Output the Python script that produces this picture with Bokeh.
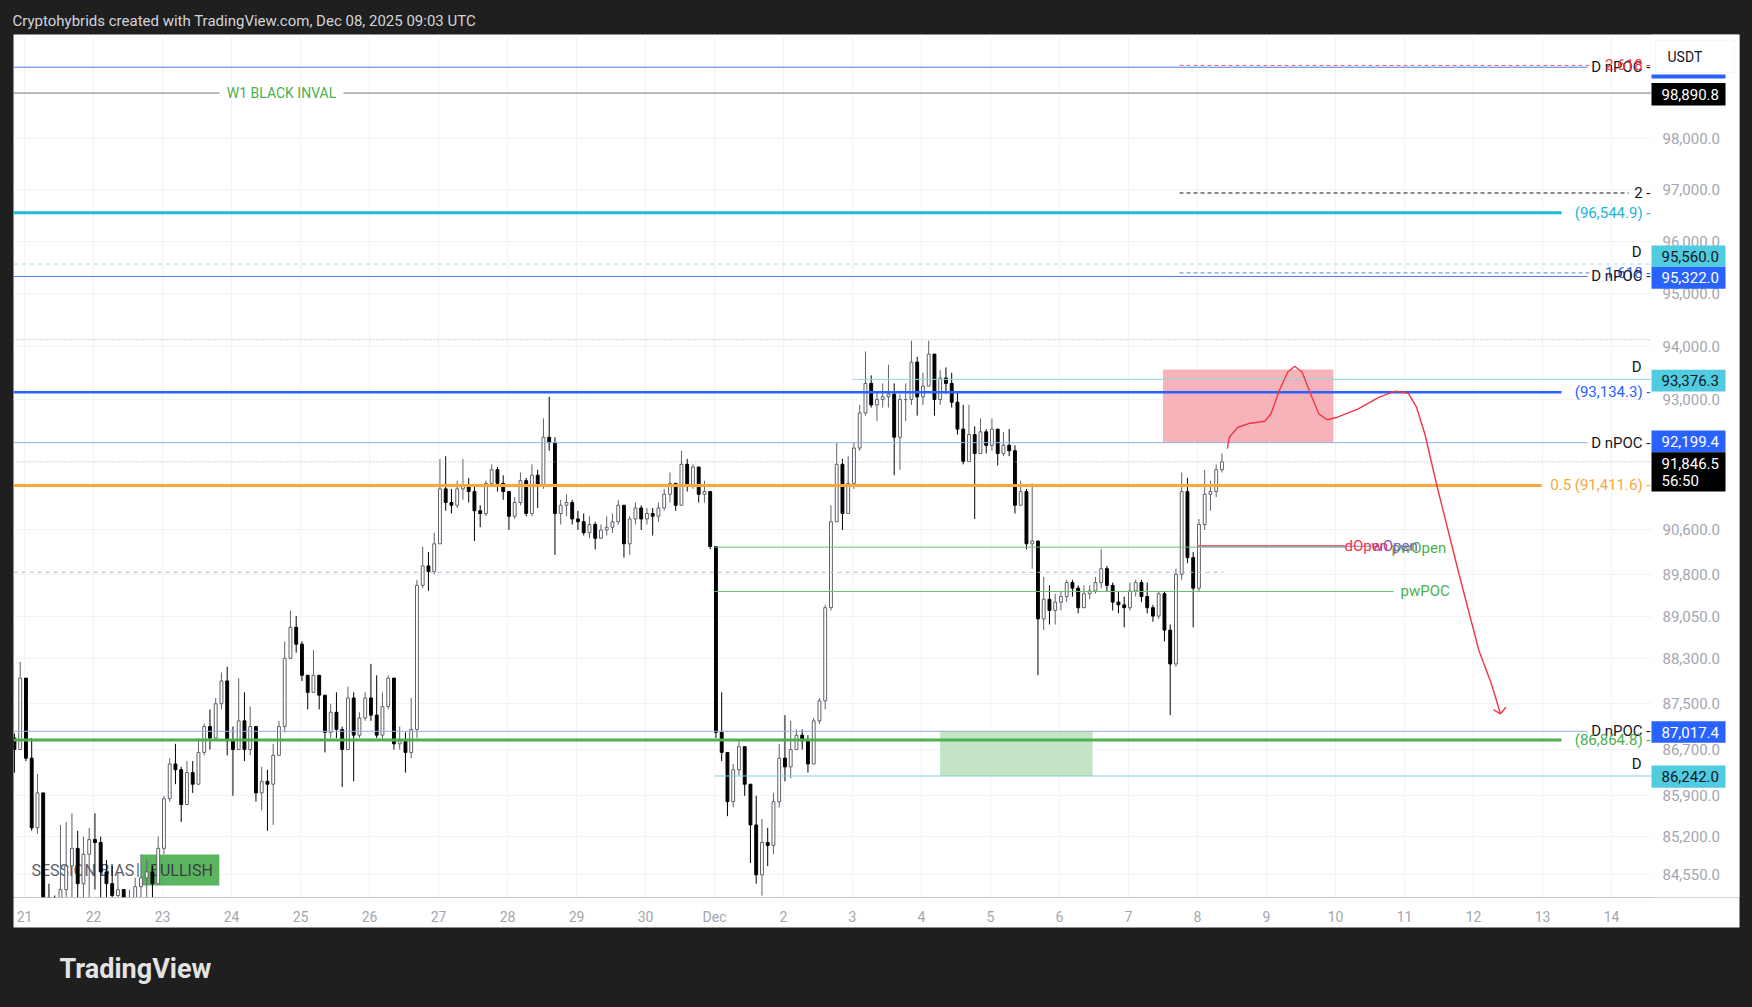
import math
import pandas as pd
from bokeh.plotting import figure
from bokeh.models import (Range1d, FixedTicker, NumeralTickFormatter, Label, Title,
                          BoxAnnotation, ColumnDataSource)
from bokeh.embed import file_html
from bokeh.resources import INLINE

# ------------------------------------------------------------------
# DATA  (BTC/USDT, 2-hour candles, first candle 2025-11-20 20:00 UTC)
# ------------------------------------------------------------------
START = "2025-11-20 20:00"
OPEN0 = 86900.0
CLOSE = [
    86700, 87950,
    86550, 85350, 85950, 84000, 83800, 83500, 84300, 84700, 85000, 84400, 84900, 85150,   # Nov 21
    85100, 84600, 84400, 84200, 84300, 84000, 84100, 84350, 84500, 84600, 84400, 85000,   # Nov 22
    85850, 86450, 86350, 85750, 86300, 86100, 86650, 87100, 86900, 87500, 87900, 86850,   # Nov 23
    86700, 87200, 86700, 87100, 85950, 86150, 86100, 86600, 87100, 88300, 88850, 88550,   # Nov 24
    88000, 87700, 88000, 87650, 87000, 87350, 87050, 86700, 87600, 86950, 87250, 87600,   # Nov 25
    87300, 86950, 87450, 87950, 86800, 86850, 86650, 87050, 89600, 89950, 89850, 90350,   # Nov 26
    91350, 91100, 91050, 91350, 91400, 91300, 90950, 90900, 91450, 91700, 91450, 91300,   # Nov 27
    90850, 91100, 91500, 90900, 91600, 91400, 92300, 92200, 90900, 91050, 91100, 90800,   # Nov 28
    90750, 90550, 90700, 90450, 90600, 90650, 90750, 91050, 90350, 90800, 91000, 90800,   # Nov 29
    90900, 90850, 91000, 91250, 91450, 91050, 91800, 91400, 91750, 91250, 91300, 90300,   # Nov 30
    87000, 86650, 85800, 86350, 86750, 86100, 85400, 84550, 85100, 85050, 85800, 86550,   # Dec 1
    86400, 86700, 86950, 86850, 86450, 87200, 87550, 89200, 90750, 91800, 90900, 91450,   # Dec 2
    92100, 92750, 93300, 92900, 93000, 93050, 93100, 92300, 93000, 93000, 93700, 93050,   # Dec 3
    93250, 93850, 93000, 93400, 93300, 92950, 92450, 91850, 92350, 92000, 92400, 92150,   # Dec 4
    92450, 92000, 92150, 92050, 91050, 91300, 90350, 90400, 89000, 89350, 89150, 89300,   # Dec 5
    89400, 89650, 89550, 89200, 89450, 89500, 89650, 89900, 89600, 89300, 89250, 89200,   # Dec 6
    89500, 89650, 89400, 89200, 89050, 89450, 88800, 88200, 89800, 91300, 90100, 89550,   # Dec 7
    90700, 91250, 91300, 91700, 91846.5,                                                  # Dec 8
]
HIGH = [
    86980, 88240,
    87700, 86900, 86280, 85950, 84400, 84200, 85400, 85450, 85600, 85300, 85200, 85350,
    85600, 85200, 84800, 84700, 84600, 84300, 84300, 84500, 84900, 84800, 84700, 85200,
    85900, 86550, 86800, 86400, 86500, 86500, 86900, 87150, 87400, 87600, 88050, 88150,
    87100, 87950, 87700, 87450, 87000, 86400, 86350, 86800, 87200, 88600, 89150, 89050,
    88600, 88000, 88450, 88000, 87600, 87500, 87700, 87100, 87800, 87700, 87350, 87700,
    88200, 88000, 87700, 88000, 87700, 87100, 87000, 87600, 89700, 90300, 90200, 90550,
    91900, 91950, 91350, 91500, 91900, 91550, 91400, 91050, 91500, 91800, 91750, 91600,
    91300, 91200, 91650, 91550, 91800, 91700, 92650, 93050, 92300, 91150, 91250, 91150,
    90950, 90900, 90850, 90750, 90700, 90850, 90900, 91150, 91050, 90850, 91100, 91050,
    91000, 91000, 91100, 91350, 91650, 91450, 92050, 91900, 91800, 91700, 91500, 91200,
    90300, 87700, 86500, 86450, 86850, 86750, 86100, 85900, 85500, 85350, 85950, 86800,
    87300, 87200, 87050, 87050, 86950, 87250, 87600, 89250, 91050, 92200, 91900, 91950,
    92200, 92900, 93900, 93450, 93150, 93300, 93650, 93300, 93100, 93300, 94100, 93800,
    93500, 94100, 93850, 93550, 93600, 93500, 93150, 92900, 92900, 92500, 92650, 92450,
    92650, 92350, 92400, 92450, 92150, 91500, 91350, 91450, 90400, 89750, 89600, 89450,
    89500, 89700, 89700, 89600, 89600, 89600, 89750, 90250, 89950, 89650, 89500, 89400,
    89650, 89700, 89700, 89650, 89250, 89500, 89500, 88900, 89900, 91650, 91550, 90200,
    90800, 91700, 91500, 91800, 92000,
]
LOW = [
    86300, 86800,
    86500, 85300, 85250, 83500, 82500, 82000, 83000, 83800, 84100, 83900, 84000, 84100,
    84300, 84100, 83900, 83800, 83900, 83700, 83600, 83900, 84000, 84100, 84000, 84400,
    84900, 85800, 86100, 85450, 85900, 85950, 86100, 86600, 86700, 86950, 87400, 86600,
    85900, 86800, 86500, 86600, 85800, 85650, 85300, 85400, 86600, 87000, 88300, 88400,
    87900, 87400, 87700, 87400, 86650, 86900, 86900, 86050, 86700, 86150, 86900, 87200,
    87200, 86900, 86850, 87400, 86700, 86700, 86300, 86550, 86900, 89550, 89500, 89800,
    90350, 90950, 90900, 91000, 91150, 91100, 90400, 90650, 90850, 91400, 91300, 91150,
    90600, 90800, 91050, 90850, 90850, 91000, 91350, 92050, 90150, 90700, 90850, 90700,
    90600, 90500, 90450, 90250, 90450, 90500, 90550, 90700, 90100, 90150, 90700, 90600,
    90700, 90500, 90750, 90950, 91100, 90950, 91050, 91300, 91350, 91100, 91100, 90250,
    86900, 86500, 85550, 85700, 86250, 85900, 84750, 84400, 84200, 84700, 84900, 85700,
    86150, 86200, 86700, 86700, 86300, 86500, 87150, 87400, 89150, 90850, 90600, 90950,
    91350, 92050, 92700, 92850, 92600, 92850, 92850, 91600, 91700, 92600, 92900, 92700,
    92900, 93300, 92700, 92900, 93100, 92850, 92350, 91800, 91850, 90800, 92000, 92000,
    92050, 91780, 91950, 91950, 90900, 91100, 90250, 89900, 88000, 88800, 88900, 88900,
    89150, 89300, 89400, 89100, 89200, 89350, 89450, 89550, 89500, 89150, 89100, 88850,
    89150, 89400, 89300, 89100, 88950, 89000, 88600, 87300, 88150, 89700, 90000, 88850,
    89500, 90600, 90950, 91200, 91650,
]

DAY_TICKS = list(range(24))          # days after 2025-11-21 00:00 UTC
DAY_LABELS = ["21", "22", "23", "24", "25", "26", "27", "28", "29", "30", "Dec",
              "2", "3", "4", "5", "6", "7", "8", "9", "10", "11", "12", "13", "14"]
PRICE_TICKS = [98000, 97000, 96000, 95000, 94000, 93000, 90600, 89800,
               89050, 88300, 87500, 86700, 85900, 85200, 84550]

# horizontal levels (USDT)
NPOC_TOP = 99404.0
FIB_2618 = 99440.0
W1_INVAL = 98890.8
FIB_2 = 96930.0
CYAN_LVL = 96544.9
D_HIGH_1 = 95560.0
FIB_1618 = 95390.0
NPOC_1 = 95322.0
RANGE_HIGH = 94120.0
D_HIGH_2 = 93376.3
BLUE_LVL = 93134.3
NPOC_2 = 92199.4
LAST_PRICE = 91846.5
HALF_LVL = 91411.6
DOPEN = 90319.0
WOPEN = 90305.0
PWOPEN = 90289.0
MID_DASH = 89835.0
PWPOC = 89490.0
NPOC_3 = 87017.4
GREEN_LVL = 86864.8
D_LOW_3 = 86242.0

# zones: (day start, day end, price low, price high)
PINK_ZONE = (16.50, 18.97, 92199.4, 93560.0)
GREEN_ZONE = (13.27, 15.48, 86242.0, 87017.4)

# hand-drawn projection path (day, price)
PATH_DAYS = [17.432, 17.462, 17.583, 17.764, 17.974, 18.065, 18.186, 18.306, 18.409,
             18.517, 18.638, 18.758, 18.878, 19.029, 19.330, 19.632, 19.872, 20.054,
             20.174, 20.294, 20.475, 20.777, 21.078, 21.259, 21.391]
PATH_PRICES = [92087, 92300, 92485, 92560, 92597, 92734, 93169, 93511, 93623,
               93511, 93107, 92734, 92623, 92671, 92827, 93043, 93156, 93118,
               92857, 92364, 91380, 89867, 88438, 87850, 87323]
ARROW_DAYS = [21.290, 21.391, 21.470]
ARROW_PRICES = [87396, 87323, 87439]

# ------------------------------------------------------------------
# LAYOUT (page pixels)
# ------------------------------------------------------------------
FONT = "Roboto"
DARK = "#1f1f1f"
FL, FR, FT, FB = 13, 1739, 34, 897        # plot frame (includes price-scale column)
PS = 1651                                   # left edge of the price-scale column
DAY0_PX, DAY_PX = 24.0, 69.0
Y_BOTTOM, Y_TOP = 84167.0, 100058.0
X0 = (FL - DAY0_PX) / DAY_PX
X1 = (FR - DAY0_PX) / DAY_PX


def px_x(px):
    return X0 + (px - FL) * (X1 - X0) / (FR - FL)


def px_y(py):
    a, b = math.log(Y_BOTTOM), math.log(Y_TOP)
    return math.exp(a + (FB - py) * (b - a) / (FB - FT))


p = figure(frame_width=FR - FL, frame_height=FB - FT,
           x_range=Range1d(X0, X1), y_range=Range1d(Y_BOTTOM, Y_TOP),
           y_axis_type="log", y_axis_location="right",
           output_backend="svg", toolbar_location=None,
           min_border_left=FL, min_border_right=1752 - FR,
           min_border_top=FT, min_border_bottom=1007 - FB,
           background_fill_color="white", border_fill_color=DARK,
           outline_line_color=None)

# header (title) and footer
p.title.text = "Cryptohybrids created with TradingView.com, Dec 08, 2025 09:03 UTC"
p.title.align = "left"
p.title.offset = -1
p.title.standoff = 10
p.title.text_font = FONT
p.title.text_font_size = "15px"
p.title.text_font_style = "normal"
p.title.text_color = "#d1d4dc"
p.add_layout(Title(text="TradingView", align="left", offset=46, standoff=47,
                   text_font=FONT, text_font_size="27px", text_font_style="bold",
                   text_color="#e3e3e3"), "below")

# axes
xa = p.xaxis[0]
xa.ticker = FixedTicker(ticks=DAY_TICKS)
xa.major_label_overrides = {t: l for t, l in zip(DAY_TICKS, DAY_LABELS)}
ya = p.yaxis[0]
ya.ticker = FixedTicker(ticks=PRICE_TICKS)
ya.formatter = NumeralTickFormatter(format="0,0.0")
ya.fixed_location = X1
for ax, size in ((xa, "14px"), (ya, "15px")):
    ax.axis_line_color = None
    ax.major_tick_line_color = None
    ax.minor_tick_line_color = None
    ax.major_tick_out = 0
    ax.major_tick_in = 0
    ax.major_label_text_font = FONT
    ax.major_label_text_font_size = size
    ax.major_label_text_color = "#a3a6af"
xa.major_label_standoff = 11
ya.major_label_standoff = 1662 - FR
try:
    xa.background_fill_color = "white"
    ya.background_fill_color = None
except Exception:
    pass
p.xgrid.grid_line_color = "#f2f3f6"
p.ygrid.grid_line_color = "#f2f3f6"

# price-scale column background (hides grid lines there)
p.quad(left=[px_x(PS)], right=[X1], bottom=[Y_BOTTOM], top=[Y_TOP],
       fill_color="white", line_color=None)


def text(x, y, s, color, size=15, align="left", baseline="middle", bold=False,
         level="annotation", font=FONT):
    p.add_layout(Label(x=x, y=y, text=s, text_color=color, text_font=font,
                       text_font_size=f"{size}px", text_align=align, text_baseline=baseline,
                       text_font_style="bold" if bold else "normal", level=level))


def rect(l, r, t, b, color, alpha=1.0, level="annotation", line=None):
    p.add_layout(BoxAnnotation(left=px_x(l), right=px_x(r), top=px_y(t), bottom=px_y(b),
                               fill_color=color, fill_alpha=alpha, line_color=line, level=level))


# session bias box (under candles)
rect(140.6, 218.8, 854, 885, "#4caf50", 0.92, level="underlay")
text(px_x(31), px_y(870), "SESSION BIAS", "#5d606b", 16, level="underlay")
text(px_x(135.5), px_y(869), "|", "#5d606b", 16, level="underlay")
text(px_x(149.5), px_y(870), "BULLISH", "#3b3e46", 16, level="underlay")

# candles
times = pd.date_range(START, periods=len(CLOSE), freq="2h")
xs = ((times - pd.Timestamp("2025-11-21")) / pd.Timedelta(days=1)).to_numpy() + 1 / 48
opens = [OPEN0] + CLOSE[:-1]
tops = [max(o, c) for o, c in zip(opens, CLOSE)]
bots = [min(o, c) for o, c in zip(opens, CLOSE)]
ups = [c >= o for o, c in zip(opens, CLOSE)]
src = ColumnDataSource(dict(
    x=xs, top=tops, bottom=bots,
    high=[max(h, t) for h, t in zip(HIGH, tops)],
    low=[min(l, b) for l, b in zip(LOW, bots)],
    fill=["white" if u else "black" for u in ups],
    line=["#5f626c" if u else "black" for u in ups],
))
p.segment(x0="x", y0="low", x1="x", y1="high", line_color="line", line_width=1, source=src)
p.vbar(x="x", width=0.5 / 12, top="top", bottom="bottom", fill_color="fill",
       line_color="line", line_width=1, source=src)

# zones
for (d0, d1, lo, hi), col in ((PINK_ZONE, "#f7b3ba"), (GREEN_ZONE, "#c3e5c5")):
    p.quad(left=[d0], right=[d1], bottom=[lo], top=[hi], fill_color=col, line_color=None)


def hline(y, x0, x1, color, width=1, dash="solid"):
    p.segment(x0=[x0], y0=[y], x1=[x1], y1=[y], line_color=color, line_width=width,
              line_dash=dash)


E = px_x(PS)
hline(NPOC_TOP, X0, px_x(1587), "#4f7fe3")
hline(FIB_2618, px_x(1179), px_x(1590), "#f0607a", 1, "4 3")
hline(W1_INVAL, X0, px_x(219), "#777a84")
hline(W1_INVAL, px_x(343), E, "#777a84")
hline(FIB_2, px_x(1179), px_x(1628), "#131722", 1, "4 3")
hline(CYAN_LVL, X0, px_x(1561), "#1fbad6", 3)
hline(D_HIGH_1, X0, E, "#9fdce6", 1, "4 4")
hline(FIB_1618, px_x(1179), px_x(1590), "#5b80ee", 1, "4 3")
hline(NPOC_1, X0, px_x(1587), "#4f7fe3")
hline(RANGE_HIGH, X0, E, "#a6a9b1", 1, "1 2")
hline(D_HIGH_2, 12.0, E, "#8fd6e0")
hline(BLUE_LVL, X0, px_x(1561), "#2962ff", 2.5)
hline(NPOC_2, X0, px_x(1587), "#93b0e4")
hline(LAST_PRICE, X0, E, "#a6a9b1", 1, "1 2")
hline(HALF_LVL, X0, px_x(1541), "#f6a93b", 3)
hline(PWOPEN, 10.0, px_x(1345), "#6cbf70")
hline(WOPEN, 17.0, px_x(1370), "#9575cd")
hline(DOPEN, 17.0, px_x(1344), "#f06070")
hline(MID_DASH, X0, px_x(1223), "#b8bbc3", 1, "4 4")
hline(PWPOC, 10.0, px_x(1393), "#6cbf70")
hline(NPOC_3, X0, px_x(1587), "#93b0e4")
hline(GREEN_LVL, X0, px_x(1561), "#4caf50", 3)
hline(D_LOW_3, 10.0, E, "#7fd0dc")

# projection drawing
p.line(PATH_DAYS, PATH_PRICES, line_color="#f23645", line_width=1.4)
p.line(ARROW_DAYS, ARROW_PRICES, line_color="#f23645", line_width=1.4)

# line labels
RX = px_x(1650)
DX = px_x(1641)
text(px_x(281), W1_INVAL, "W1 BLACK INVAL", "#4caf50", 14, align="center")
text(RX, NPOC_TOP, "D nPOC -", "#131722", 15, align="right")
text(RX, FIB_2618, "2.618 -", "#f23645", 15, align="right")
text(RX, FIB_2, "2 -", "#131722", 15, align="right")
text(RX, CYAN_LVL, "(96,544.9) -", "#1fb5d0", 15, align="right")
text(DX, px_y(251.7), "D", "#131722", 15, align="right")
text(RX, FIB_1618, "1.618 -", "#2962ff", 15, align="right")
text(RX, NPOC_1, "D nPOC -", "#131722", 15, align="right")
text(DX, px_y(366.7), "D", "#131722", 15, align="right")
text(RX, BLUE_LVL, "(93,134.3) -", "#2962ff", 15, align="right")
text(RX, NPOC_2, "D nPOC -", "#131722", 15, align="right")
text(RX, HALF_LVL, "0.5 (91,411.6) -", "#f6a93b", 15, align="right")
text(px_x(1391), px_y(547), "pwOpen", "#4caf50", 15)
text(px_x(1371), px_y(545), "wOpen", "#7e57c2", 15)
text(px_x(1344), px_y(545), "dOpen", "#f23645", 15)
text(px_x(1400), PWPOC, "pwPOC", "#4caf50", 15)
text(RX, NPOC_3, "D nPOC -", "#131722", 15, align="right")
text(RX, GREEN_LVL, "(86,864.8) -", "#4caf50", 15, align="right")
text(DX, px_y(763.3), "D", "#131722", 15, align="right")


# price badges on the price scale
def badge(y0, y1, bg, label=None, fg="white", ty=None):
    rect(PS, 1725, y0, y1, bg)
    if label:
        text(px_x(1661), px_y(ty if ty else (y0 + y1) / 2), label, fg, 15)


rect(1655, 1734, 40, 72, "white", line="#e0e3eb")
text(px_x(1667), px_y(56), "USDT", "#131722", 14)
badge(74, 78, "#2962ff")
badge(82.5, 105, "black", f"{W1_INVAL:,.1f}")
badge(245, 266.5, "#50cbdf", f"{D_HIGH_1:,.1f}", "#131722")
badge(266.5, 288.3, "#2962ff", f"{NPOC_1:,.1f}")
badge(369.3, 391, "#50cbdf", f"{D_HIGH_2:,.1f}", "#131722")
badge(430, 451.7, "#2962ff", f"{NPOC_2:,.1f}")
badge(451.7, 491, "black", f"{LAST_PRICE:,.1f}", ty=462.5)
text(px_x(1661), px_y(480.5), "56:50", "white", 15)
badge(720.7, 742.3, "#2962ff", f"{NPOC_3:,.1f}")
badge(765, 787.3, "#50cbdf", f"{D_LOW_3:,.1f}", "#131722")

html = file_html(p, INLINE)
html = html.replace("</head>", "<style>html,body{background:#1f1f1f !important;overflow:hidden;}</style></head>", 1)
open("out.html", "w").write(html)
